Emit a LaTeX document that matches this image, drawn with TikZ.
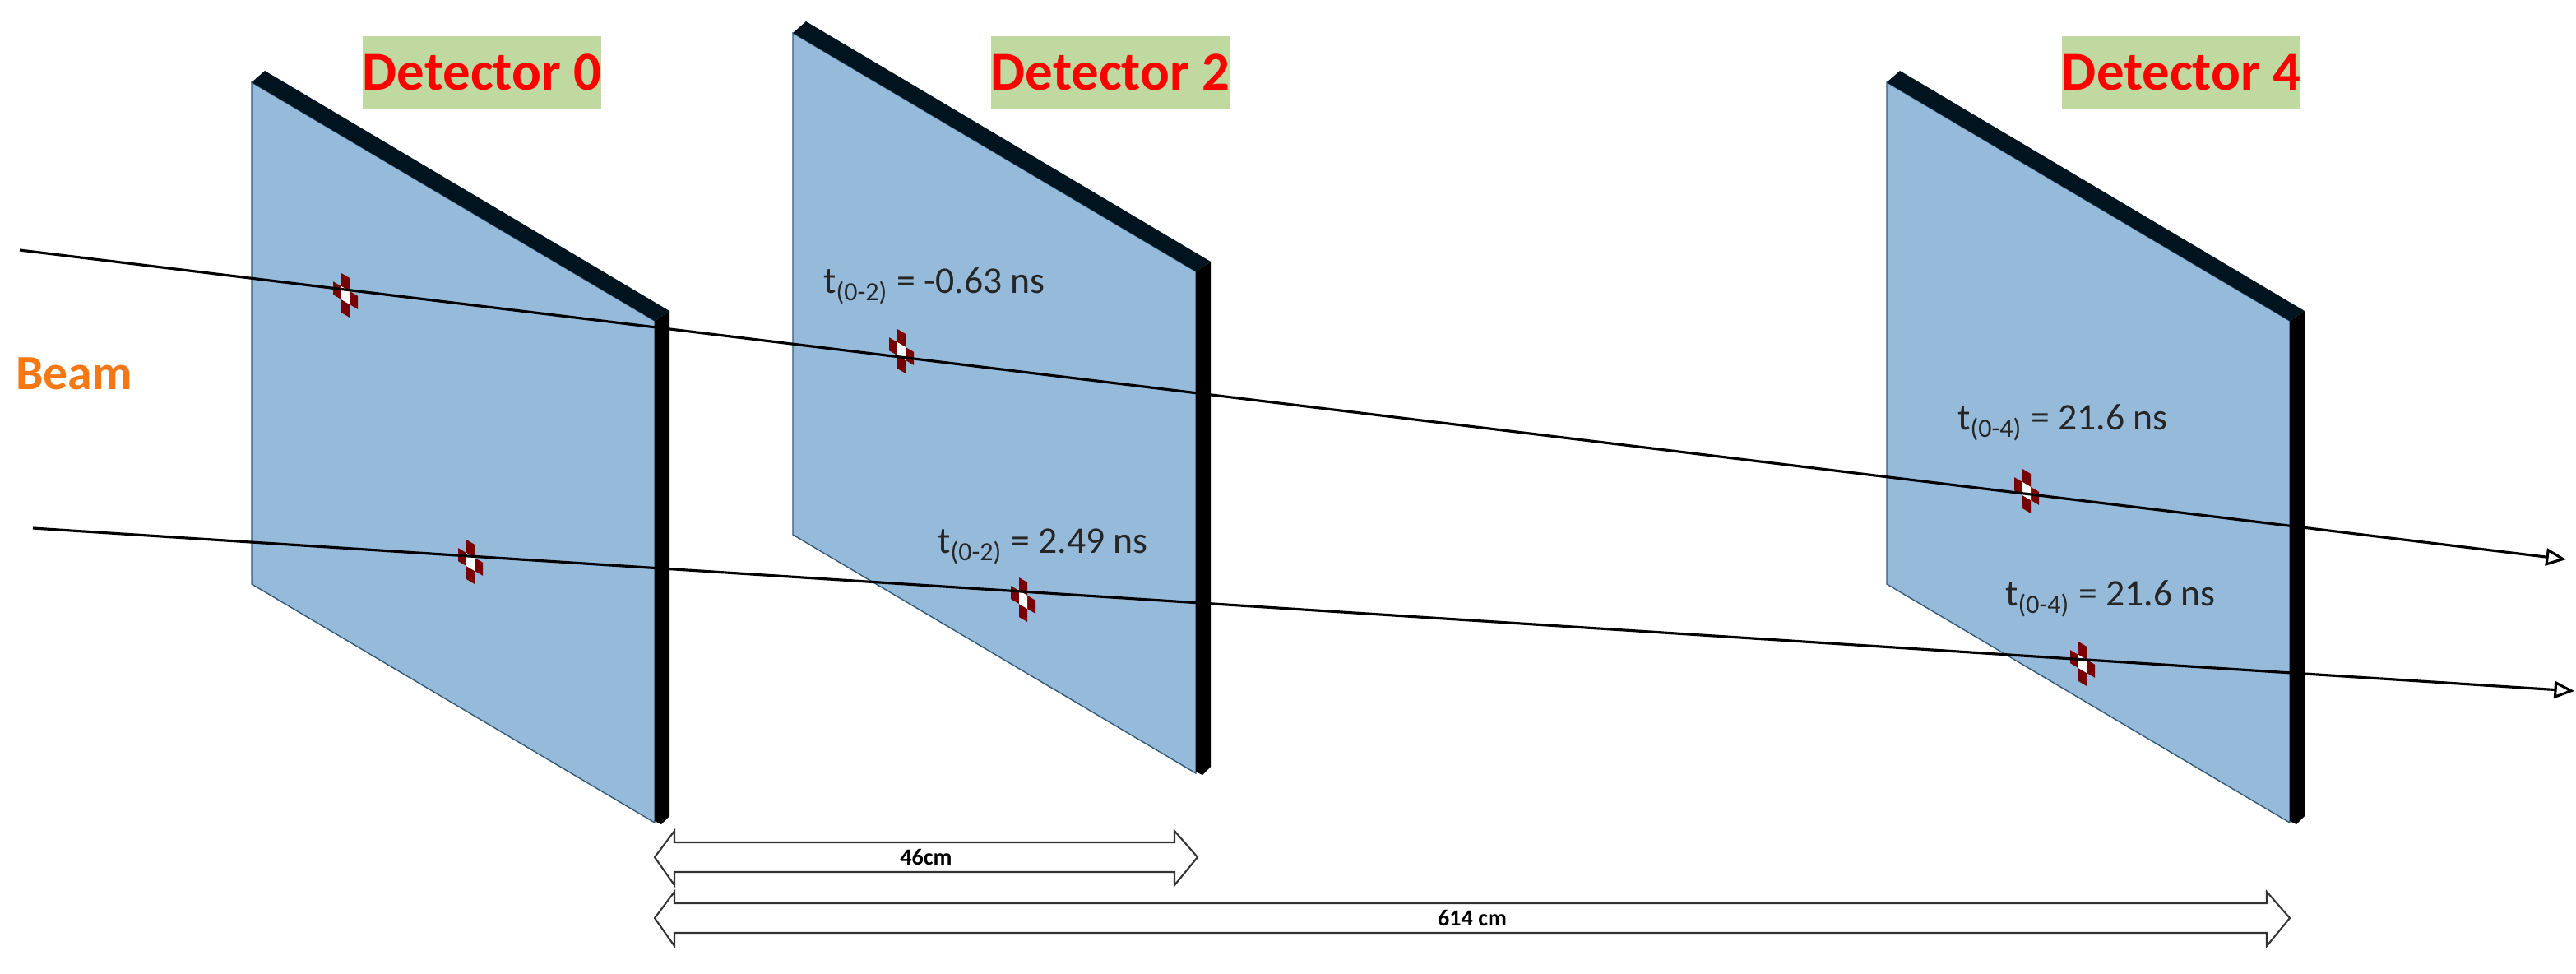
\documentclass[tikz,border=0pt]{standalone}
\usepackage{fontspec}
\setmainfont{Carlito}
\usetikzlibrary{arrows.meta}
\definecolor{platefill}{RGB}{149,186,218}
\definecolor{plateedge}{RGB}{50,90,120}
\definecolor{darkside}{RGB}{0,20,32}
\definecolor{lblgreen}{RGB}{192,217,160}
\definecolor{mred}{RGB}{120,0,0}
\definecolor{beamorange}{RGB}{245,120,20}
\newcommand\myplate[2]{%
  \fill[platefill, draw=plateedge, line width=0.4pt] (#1,#2) -- ++(245,145) -- ++(0,305) -- ++(-245,-145) -- cycle;
  \fill[darkside] (#1,#2) -- ++(8,-7) -- ++(246,146) -- ++(-9,6) -- cycle;
  \fill[black] ({#1+245},{#2+145}) -- ++(9,-6) -- ++(0,307) -- ++(-5,5) -- ++(-4,-2) -- cycle;
}
\tikzset{
  detlabel/.style={fill=lblgreen, text=red, font=\fontsize{19}{22}\selectfont\bfseries, minimum width=80*0.02cm, minimum height=44*0.02cm, inner sep=0pt},
  tlabel/.style={font=\fontsize{13}{15}\selectfont, text=black!85, inner sep=0pt},
  beamline/.style={line width=0.9pt, -{Triangle[open, length=7pt, width=6pt]}},
  pixel/.pic={
    \foreach \i/\j/\c in {-1/0/mred,1/0/mred,0/-1/mred,0/1/mred,0/0/white}
      \fill[\c] ({\i*5-2.5},{\j*8+\i*2.95-4}) -- ++(5,2.95) -- ++(0,8) -- ++(-5,-2.95) -- cycle;
  },
  blockarrow/.style={draw=black!80, fill=white, line width=0.6pt}
}
\begin{document}
\begin{tikzpicture}[x=0.02cm,y=-0.02cm]
\useasboundingbox (0,0) rectangle (1566,591.5);
\myplate{153}{50}
\myplate{482}{20}
\myplate{1147}{50}
\node[detlabel] (d0) at (293,44) {Detector 0};
\node[detlabel] (d2) at (675,44) {Detector 2};
\node[detlabel, minimum width=84*0.02cm] (d4) at (1326,44) {Detector 4};
\node[text=beamorange, font=\fontsize{17}{20}\selectfont\bfseries] (beam) at (45,227) {Beam};
\pic at (210,178) {pixel};
\pic at (286,340) {pixel};
\pic at (548,212) {pixel};
\pic at (622,363) {pixel};
\pic at (1232,297) {pixel};
\pic at (1266,402) {pixel};
\coordinate (a1) at (12,152);
\coordinate (b1) at (1560,340);
\coordinate (a2) at (20,321);
\coordinate (b2) at (1565,420);
\draw[beamline] (a1) -- (b1);
\draw[beamline] (a2) -- (b2);
\node[tlabel] (l1) at (568,174) {t\textsubscript{(0-2)} = -0.63 ns};
\node[tlabel] (l2) at (634,332) {t\textsubscript{(0-2)} = 2.49 ns};
\node[tlabel] (l3) at (1254,257) {t\textsubscript{(0-4)} = 21.6 ns};
\node[tlabel] (l4) at (1283,364) {t\textsubscript{(0-4)} = 21.6 ns};
\draw[blockarrow] (398,521) -- (410,505) -- (410,512) -- (714,512) -- (714,505) -- (728,521) -- (714,538) -- (714,530) -- (410,530) -- (410,538) -- cycle;
\node[font=\fontsize{8}{9}\selectfont\bfseries] (m46) at (563,521) {46cm};
\draw[blockarrow] (398,558) -- (410,542) -- (410,549) -- (1378,549) -- (1378,542) -- (1392,558) -- (1378,575) -- (1378,567) -- (410,567) -- (410,575) -- cycle;
\node[font=\fontsize{8}{9}\selectfont\bfseries] (m614) at (895,558) {614 cm};
\end{tikzpicture}
\end{document}
